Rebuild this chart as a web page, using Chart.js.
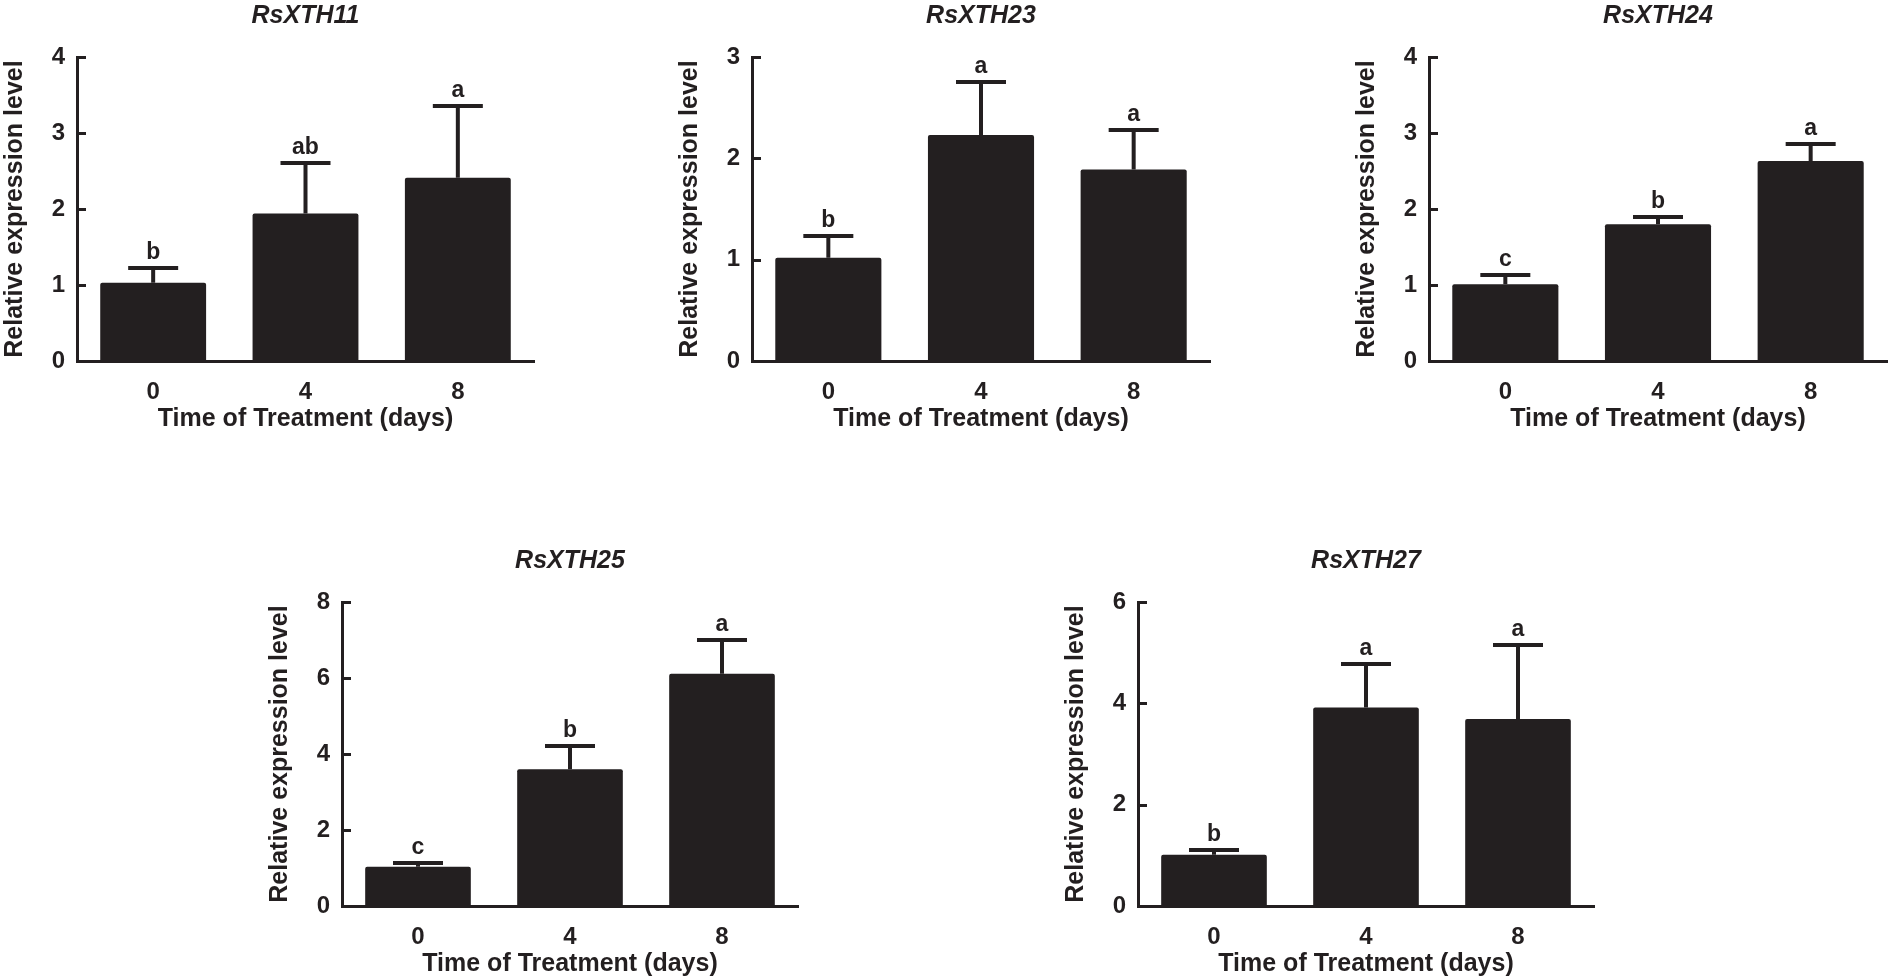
<!DOCTYPE html>
<html>
<head>
<meta charset="utf-8">
<title>RsXTH relative expression</title>
<script src="https://cdn.jsdelivr.net/npm/chart.js@4.4.1/dist/chart.umd.min.js"></script>
<style>
    body { margin: 0; background: #ffffff; }
    #pagina { position: relative; width: 1890px; height: 979px; overflow: hidden; background: #ffffff; }
    #pagina canvas { position: absolute; }
</style>
</head>
<body>
<div id="pagina">
    <canvas id="grafico-xth11"></canvas>
    <canvas id="grafico-xth23"></canvas>
    <canvas id="grafico-xth24"></canvas>
    <canvas id="grafico-xth25"></canvas>
    <canvas id="grafico-xth27"></canvas>
</div>
<script>
// --------------- DATI ---------------------
var giorni = ["0", "4", "8"];

var mediaXTH11 = [1.03, 1.94, 2.41];
var erroreXTH11 = [0.19, 0.66, 0.94];
var lettereXTH11 = ["b", "ab", "a"];
var tickXTH11 = [0, 1, 2, 3, 4];

var mediaXTH23 = [1.02, 2.23, 1.89];
var erroreXTH23 = [0.21, 0.52, 0.39];
var lettereXTH23 = ["b", "a", "a"];
var tickXTH23 = [0, 1, 2, 3];

var mediaXTH24 = [1.01, 1.80, 2.63];
var erroreXTH24 = [0.12, 0.10, 0.23];
var lettereXTH24 = ["c", "b", "a"];
var tickXTH24 = [0, 1, 2, 3, 4];

var mediaXTH25 = [1.03, 3.60, 6.11];
var erroreXTH25 = [0.09, 0.61, 0.90];
var lettereXTH25 = ["c", "b", "a"];
var tickXTH25 = [0, 2, 4, 6, 8];

var mediaXTH27 = [1.01, 3.92, 3.69];
var erroreXTH27 = [0.09, 0.86, 1.47];
var lettereXTH27 = ["b", "a", "a"];
var tickXTH27 = [0, 2, 4, 6];

var titoloX = "Time of Treatment (days)";
var titoloY = "Relative expression level";

// --------------- STILE ---------------------
var nero = "#231f20";
var famiglia = '"Liberation Sans", Arial, Helvetica, sans-serif';

Chart.defaults.font.family = famiglia;
Chart.defaults.color = nero;
Chart.defaults.animation = false;

var larghezzaAsseY = 77; // spazio a sinistra dell'asse (numeri + titolo)
var altezzaAsseX = 73;   // spazio sotto l'asse (numeri + titolo)
var altezzaCanvas = 434;

// --------------- PLUGIN ---------------------
var barreErrore = {
    id: "barreErrore",
    afterDatasetsDraw: function(chart, args, opts) {
        var ctx = chart.ctx;
        var meta = chart.getDatasetMeta(0);
        var scalaY = chart.scales.y;
        var medie = chart.data.datasets[0].data;
        ctx.save();
        ctx.strokeStyle = nero;
        ctx.fillStyle = nero;
        ctx.lineWidth = 4;
        ctx.font = "bold 23px " + famiglia;
        ctx.textAlign = "center";
        ctx.textBaseline = "alphabetic";
        for (var i = 0; i < meta.data.length; i++) {
            var barra = meta.data[i];
            var cima = Math.round(scalaY.getPixelForValue(medie[i] + opts.errori[i]));
            ctx.beginPath();
            ctx.moveTo(barra.x, barra.y);
            ctx.lineTo(barra.x, cima);
            ctx.moveTo(barra.x - 25, cima);
            ctx.lineTo(barra.x + 25, cima);
            ctx.stroke();
            ctx.fillText(opts.lettere[i], barra.x, cima - 9);
        }
        ctx.restore();
    }
};

var taccheInterne = { // tacche dell'asse y verso l'interno
    id: "taccheInterne",
    afterDatasetsDraw: function(chart) {
        var ctx = chart.ctx;
        var scalaY = chart.scales.y;
        var x0 = chart.chartArea.left;
        ctx.save();
        ctx.strokeStyle = nero;
        ctx.lineWidth = 3;
        scalaY.ticks.forEach(function(t) {
            var py = Math.round(scalaY.getPixelForValue(t.value)) + 0.5;
            ctx.beginPath();
            ctx.moveTo(x0, py);
            ctx.lineTo(x0 + 9, py);
            ctx.stroke();
        });
        ctx.restore();
    }
};

// --------------- FUNZIONI ---------------------
function creaGrafico(id, nome, medie, errori, lettere, tacche, posizione) {
    var canvas = document.getElementById(id);
    var larghezza = posizione.destra - posizione.asse + larghezzaAsseY + 3;
    canvas.width = larghezza;
    canvas.height = altezzaCanvas;
    canvas.style.left = (posizione.asse - larghezzaAsseY) + "px";
    canvas.style.top = posizione.alto + "px";

    return new Chart(canvas, {
        type: "bar",
        data: {
            labels: giorni,
            datasets: [{
                data: medie,
                backgroundColor: nero,
                borderWidth: 0,
                borderRadius: 2,
                categoryPercentage: 1,
                barPercentage: 0.695
            }]
        },
        options: {
            responsive: false,
            layout: { padding: { top: 0, left: 0, right: 3, bottom: 0 } },
            plugins: {
                legend: { display: false },
                tooltip: { enabled: false },
                title: {
                    display: true,
                    text: nome,
                    fullSize: false,
                    color: nero,
                    font: { size: 25, weight: "bold", style: "italic", lineHeight: 1.2 },
                    padding: { top: 1, bottom: 26 }
                },
                barreErrore: { errori: errori, lettere: lettere }
            },
            scales: {
                x: {
                    grid: { display: false },
                    border: { display: true, color: nero, width: 3 },
                    ticks: { color: nero, padding: 9, font: { size: 24, weight: "bold" } },
                    title: {
                        display: true,
                        text: titoloX,
                        color: nero,
                        font: { size: 25, weight: "bold", lineHeight: 1.2 },
                        padding: 0
                    },
                    afterFit: function(scala) { scala.height = altezzaAsseX; }
                },
                y: {
                    min: tacche[0],
                    max: tacche[tacche.length - 1],
                    grid: { display: false },
                    border: { display: true, color: nero, width: 3 },
                    ticks: { color: nero, padding: 4, font: { size: 24, weight: "bold" } },
                    title: {
                        display: true,
                        text: titoloY,
                        color: nero,
                        font: { size: 25, weight: "bold", lineHeight: 1.2 },
                        padding: 0
                    },
                    afterBuildTicks: function(scala) {
                        scala.ticks = tacche.map(function(v) { return { value: v }; });
                    },
                    afterFit: function(scala) { scala.width = larghezzaAsseY; }
                }
            }
        },
        plugins: [barreErrore, taccheInterne]
    });
}

creaGrafico("grafico-xth11", "RsXTH11", mediaXTH11, erroreXTH11, lettereXTH11, tickXTH11, { asse: 77, destra: 534, alto: 0 });
creaGrafico("grafico-xth23", "RsXTH23", mediaXTH23, erroreXTH23, lettereXTH23, tickXTH23, { asse: 752, destra: 1210, alto: 0 });
creaGrafico("grafico-xth24", "RsXTH24", mediaXTH24, erroreXTH24, lettereXTH24, tickXTH24, { asse: 1429, destra: 1887, alto: 0 });
creaGrafico("grafico-xth25", "RsXTH25", mediaXTH25, erroreXTH25, lettereXTH25, tickXTH25, { asse: 342, destra: 798, alto: 545 });
creaGrafico("grafico-xth27", "RsXTH27", mediaXTH27, erroreXTH27, lettereXTH27, tickXTH27, { asse: 1138, destra: 1594, alto: 545 });
</script>
</body>
</html>
